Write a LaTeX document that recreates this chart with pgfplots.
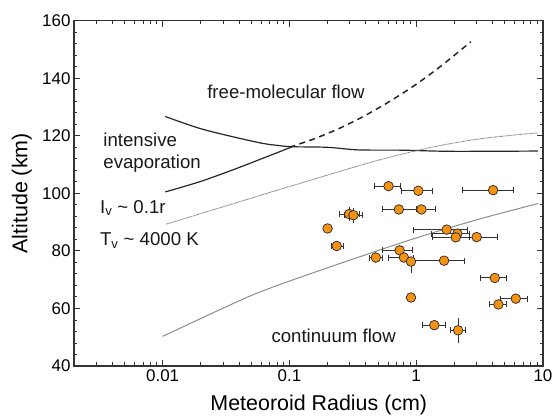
\documentclass[border=0pt]{standalone}
\usepackage{fontspec}
\setmainfont{Liberation Sans}
\usepackage{pgfplots}
\usepackage{pgfplotstable}
\pgfplotsset{compat=1.18}
\definecolor{ptorange}{RGB}{245,146,18}

% meteor radius (cm), altitude (km) and their errors
\pgfplotstableread{
x     y     xm    xp    ym   yp
0.605 102.5 0.138 0.152 0    0
1.04  100.9 0.28  0.30  0    0
4.04  101.1 1.72  1.77  0    0
0.296 92.8  0.046 0.06  1.5  1.5
0.32  92.4  0.05  0.057 1.5  1.5
0.73  94.4  0.19  0.27  0    0
1.10  94.4  0.10  0.33  0    0
0.20  87.8  0     0     0    0
0.236 81.7  0.02  0.03  0    0
1.74  87.4  0.78  0.79  0    0
2.11  86.0  0.80  0.50  0    0
2.05  84.7  0.70  0.60  0    0
3.0   84.8  0.95  1.37  0    0
0.74  80.2  0.20  0.19  0    0
0.48  77.7  0.05  0.06  1    1
0.80  77.7  0.20  0.15  0    0
0.91  76.3  0.05  0.05  3    0.5
1.66  76.6  0.73  0.73  0    0
4.17  70.6  0.94  0.99  0    0
0.91  63.8  0     0     0    0
6.1   63.4  1.45  1.40  0    0
4.45  61.4  0.69  0.71  0    0
1.39  54.2  0.27  0.32  0    0
2.14  52.4  0.26  0.32  3.5  3.4
}\meteors

\begin{document}
\begin{tikzpicture}
\useasboundingbox (0,0) rectangle (553bp,416bp);
\begin{axis}[
  at={(74bp,50bp)}, anchor=south west,
  width=469bp, height=345.3bp, scale only axis,
  xmode=log, xmin=0.002, xmax=10, ymin=40, ymax=160,
  xtick={0.01,0.1,1,10}, xticklabels={0.01,0.1,1,10},
  minor xtick={0.002,0.003,0.004,0.005,0.006,0.007,0.008,0.009,
    0.02,0.03,0.04,0.05,0.06,0.07,0.08,0.09,
    0.2,0.3,0.4,0.5,0.6,0.7,0.8,0.9,2,3,4,5,6,7,8,9},
  ytick={40,60,80,100,120,140,160}, minor y tick num=4,
  tick align=inside, major tick length=6bp, minor tick length=3.5bp,
  axis line style={line width=1.1pt, black!80},
  every tick/.style={black!80, line width=0.9pt},
  tick label style={font=\fontsize{17}{17}\selectfont},
  /pgf/number format/assume math mode=true,
  label style={font=\fontsize{21.5}{21.5}\selectfont},
  xlabel={Meteoroid Radius (cm)},
  xlabel style={at={(axis description cs:0.522,-0.113)}, anchor=center},
  ylabel={Altitude (km)},
  ylabel style={at={(axis description cs:-0.111,0.5)}, anchor=center},
  clip=false,
]
% free-molecular / intensive evaporation boundary
\addplot[black!85, line width=1.2pt, smooth, tension=0.5] coordinates {
  (0.0105,126.7) (0.0195,122.6) (0.0355,119.7) (0.061,117.4) (0.083,116.6)
  (0.105,116.2) (0.2,116.0) (0.35,115.1) (0.78,115.0) (1.9,114.6) (9.1,114.7)
};
\addplot[black!85, line width=1.2pt, smooth, tension=0.5] coordinates {
  (0.0105,100.5) (0.0195,104) (0.0355,108.1) (0.061,112.1) (0.083,114.4) (0.105,116.2)
};
\addplot[black!85, line width=1.5pt, dash pattern=on 6bp off 4.5bp, smooth] coordinates {
  (0.1,116) (0.158,119.0) (0.251,122.7) (0.398,127.1) (0.631,132.2) (1.0,137.9) (1.585,144.4) (2.7,152.7)
};
% l_v ~ 0.1 r
\addplot[black!55, line width=0.9pt, dash pattern=on 0.6pt off 0.6pt, smooth] coordinates {
  (0.0107,89.3) (0.07,100.3) (0.17,105.4) (0.4,110.3) (0.8,113.8) (1.5,116.5) (3,118.8) (6,120.3) (9.1,121)
};
% continuum flow boundary
\addplot[black!45, line width=1pt, smooth] coordinates {
  (0.01,50.3) (0.02,56.5) (0.05,64.5) (0.1,69.5) (0.3,76.8) (1,84.5) (3,90.8) (9.2,96.5)
};

% horizontal error bars
\addplot[only marks, mark=none,
  error bars/.cd, x dir=both, x explicit, error mark=|,
  error bar style={black!80, line width=1pt},
  error mark options={black!80, line width=1pt, mark size=3bp}]
  table[x=x, y=y, x error minus=xm, x error plus=xp]{\meteors};
% vertical error bars
\addplot[only marks, mark=none,
  error bars/.cd, y dir=both, y explicit, error mark=-,
  error bar style={black!80, line width=1pt},
  error mark options={black!80, line width=1pt, mark size=3bp}]
  table[x=x, y=y, y error minus=ym, y error plus=yp]{\meteors};
% data points
\addplot[only marks, mark=*, mark size=4.8bp,
  mark options={fill=ptorange, draw=black!85, line width=0.7pt}]
  table[x=x, y=y]{\meteors};

\begin{scope}[every node/.style={font=\fontsize{18.7}{18.7}\selectfont, black!90, inner sep=0pt}]
\node[anchor=center] at (axis cs:0.094,135.3) {free-molecular flow};
\node[anchor=west] at (axis cs:0.0034,118.5) {intensive};
\node[anchor=west] at (axis cs:0.0034,110.4) {evaporation};
\node[anchor=west] at (axis cs:0.0032,94.9) {I\textsubscript{v} \textasciitilde\ 0.1r};
\node[anchor=west] at (axis cs:0.0032,83.7) {T\textsubscript{v} \textasciitilde\ 4000 K};
\node[anchor=west] at (axis cs:0.072,50.6) {continuum flow};
\end{scope}
\end{axis}
\end{tikzpicture}
\end{document}
